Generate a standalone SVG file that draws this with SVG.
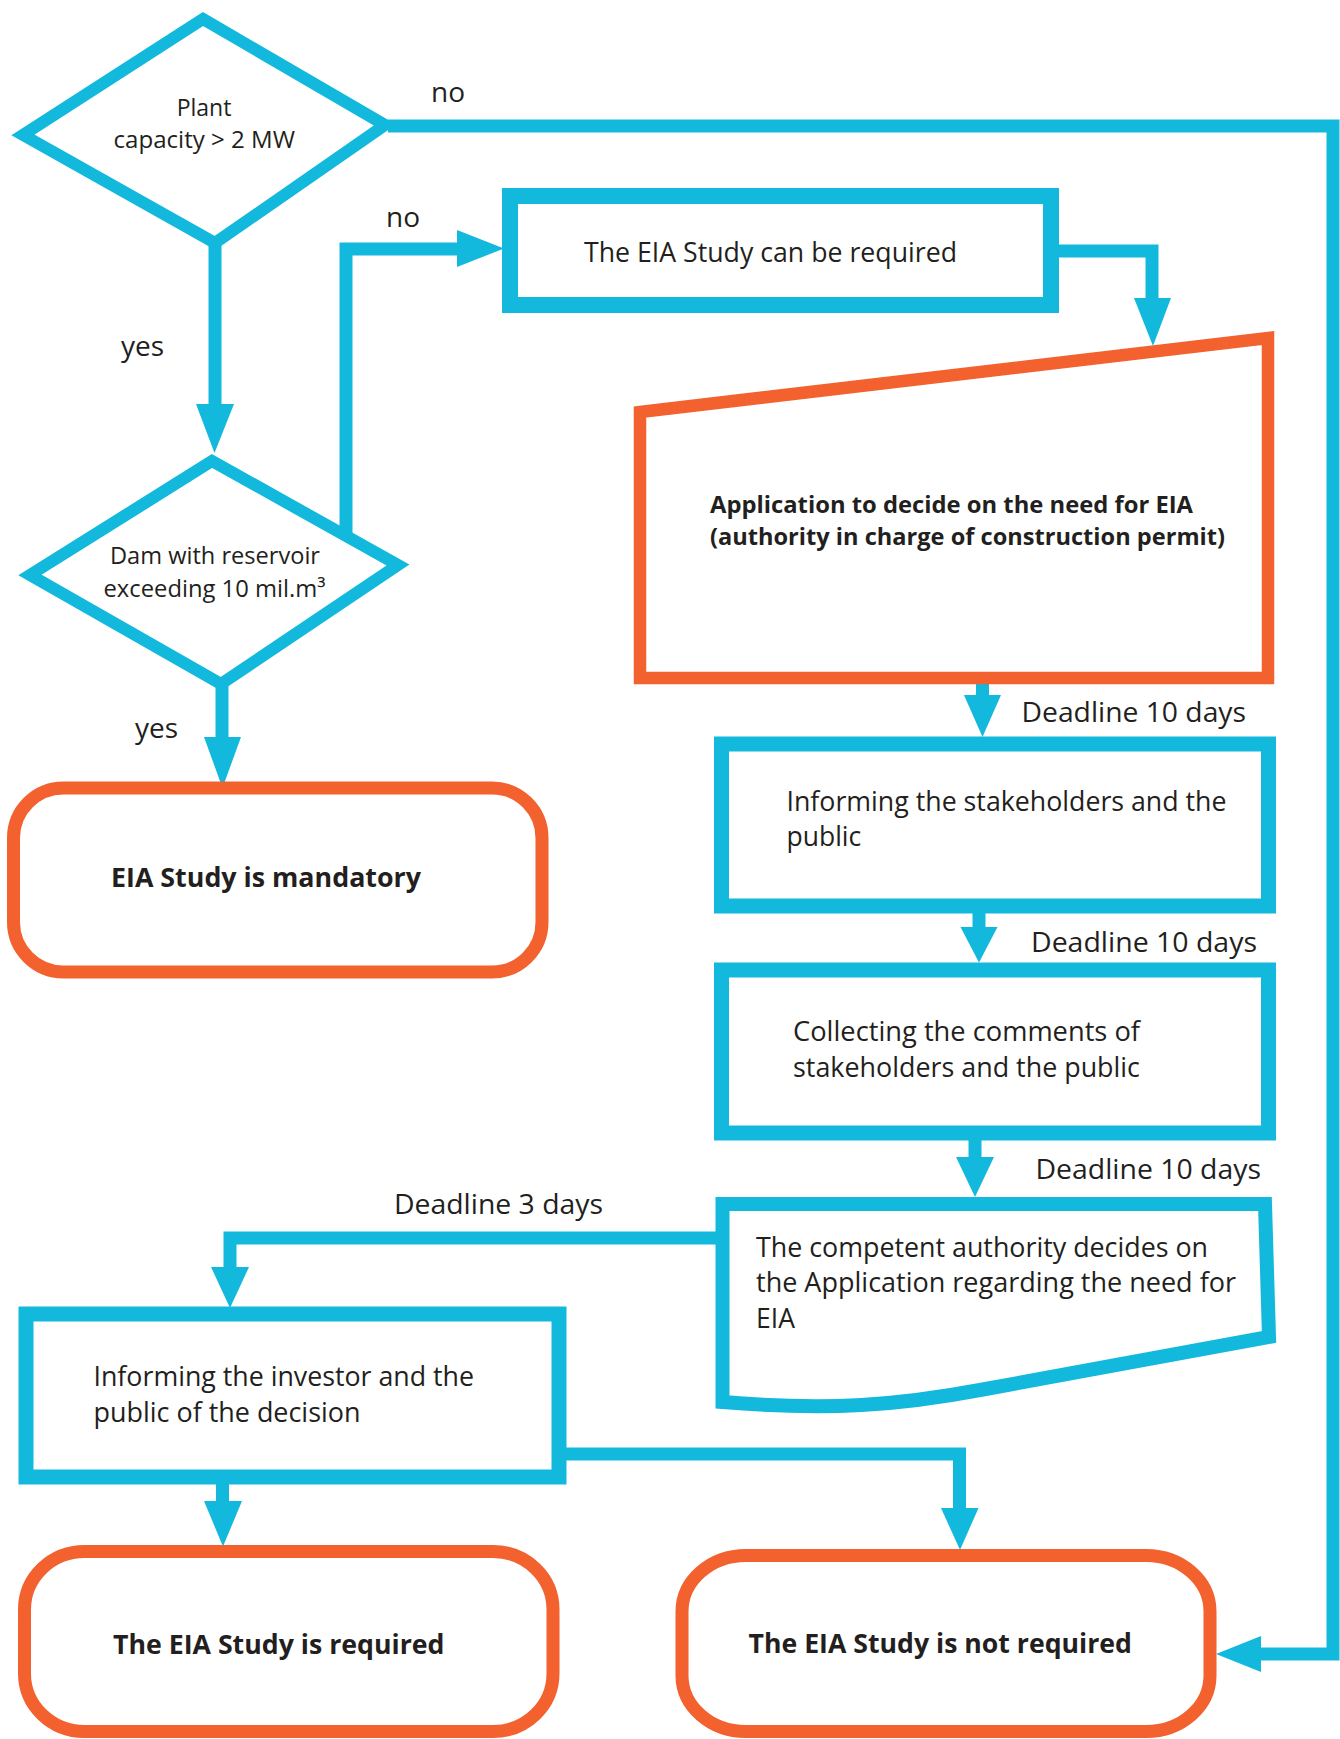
<svg xmlns="http://www.w3.org/2000/svg" width="1340" height="1739" viewBox="0 0 1340 1739">
<style>
.bg{fill:#ffffff}
.dia{fill:#ffffff;stroke:#12B9DC;stroke-width:12;stroke-linejoin:miter}
.box{fill:#ffffff;stroke:#12B9DC;stroke-width:15;stroke-linejoin:miter}
.obox{fill:#ffffff;stroke:#F2612E;stroke-width:12.5;stroke-linejoin:miter}
.term{fill:#ffffff;stroke:#F2612E;stroke-width:13}
.con{fill:none;stroke:#12B9DC;stroke-width:13;stroke-linejoin:miter;stroke-linecap:butt}
.ah{fill:#12B9DC;stroke:none}
text{font-family:"Open Sans","Noto Sans","Liberation Sans",sans-serif;fill:#231f20}
.sm{font-size:23px}
.t{font-size:26.5px}
.lbl{font-size:28px}
.b{font-size:26.5px;font-weight:bold}
.bs{font-size:23.5px;font-weight:bold}
</style>
<rect class="bg" x="0" y="0" width="1340" height="1739"/>

<g id="connectors">
  <!-- plant capacity: no -> not required -->
  <path class="con" d="M388 126 H1333 V1654 H1259"/>
  <polygon class="ah" points="1261,1636 1261,1672 1216,1654"/>
  <!-- plant capacity: yes -> dam -->
  <path class="con" d="M215 238 V406"/>
  <polygon class="ah" points="196,404 234,404 214.5,453"/>
  <!-- dam: no -> can be required -->
  <path class="con" d="M346 537 V249 H459"/>
  <polygon class="ah" points="457,230 457,267 504,248.5"/>
  <!-- can be required -> application -->
  <path class="con" d="M1058 251 H1152 V300"/>
  <polygon class="ah" points="1134,298 1171,298 1153,346"/>
  <!-- dam: yes -> mandatory -->
  <path class="con" d="M222 680 V739"/>
  <polygon class="ah" points="204,737 241,737 222.5,788"/>
  <!-- application -> informing stakeholders -->
  <path class="con" d="M982.5 682 V697"/>
  <polygon class="ah" points="964,695 1001,695 982.5,737"/>
  <!-- informing stakeholders -> collecting -->
  <path class="con" d="M979 910 V929"/>
  <polygon class="ah" points="960.5,927 997.5,927 979,962.5"/>
  <!-- collecting -> decision -->
  <path class="con" d="M975 1138 V1159"/>
  <polygon class="ah" points="956,1157 994,1157 975,1197"/>
  <!-- decision -> informing investor -->
  <path class="con" d="M718 1238 H230 V1269"/>
  <polygon class="ah" points="211,1267 249,1267 230,1308"/>
  <!-- informing investor -> required -->
  <path class="con" d="M222.5 1482 V1503"/>
  <polygon class="ah" points="204,1501 242,1501 223,1546.5"/>
  <!-- informing investor -> not required -->
  <path class="con" d="M564 1454 H959.5 V1510"/>
  <polygon class="ah" points="941,1508 978.5,1508 960,1550"/>
</g>

<g id="label-no-1"><text class="lbl" x="431" y="101.5">no</text></g>
<g id="label-yes-1"><text class="lbl" x="121" y="356">yes</text></g>
<g id="label-no-2"><text class="lbl" x="386" y="226.5">no</text></g>
<g id="label-yes-2"><text class="lbl" x="135" y="738">yes</text></g>
<g id="label-deadline-1"><text class="lbl" x="1021.5" y="721.5" textLength="224.5" lengthAdjust="spacingAndGlyphs">Deadline 10 days</text></g>
<g id="label-deadline-2"><text class="lbl" x="1031" y="952" textLength="226" lengthAdjust="spacingAndGlyphs">Deadline 10 days</text></g>
<g id="label-deadline-3"><text class="lbl" x="1035.5" y="1178.5" textLength="225.5" lengthAdjust="spacingAndGlyphs">Deadline 10 days</text></g>
<g id="label-deadline-4"><text class="lbl" x="394" y="1214" textLength="209" lengthAdjust="spacingAndGlyphs">Deadline 3 days</text></g>

<g id="node-plant-capacity">
  <polygon class="dia" points="203,19 385,125 215,243 23,135"/>
  <text class="sm" x="204" y="116" text-anchor="middle">Plant</text>
  <text class="sm" x="113.5" y="147.5" textLength="181.5" lengthAdjust="spacingAndGlyphs">capacity &gt; 2 MW</text>
</g>

<g id="node-dam">
  <polygon class="dia" points="212,461 398,565 221,684 30,575"/>
  <text class="sm" x="110" y="564" textLength="210" lengthAdjust="spacingAndGlyphs">Dam with reservoir</text>
  <text class="sm" x="103.5" y="596.5" textLength="222" lengthAdjust="spacingAndGlyphs">exceeding 10 mil.m³</text>
</g>

<g id="node-can-be-required">
  <rect x="510" y="196" width="541" height="109" fill="#ffffff" stroke="#12B9DC" stroke-width="16"/>
  <text class="t" x="584" y="262" textLength="373" lengthAdjust="spacingAndGlyphs">The EIA Study can be required</text>
</g>

<g id="node-application">
  <path class="obox" d="M640 412 L1268 338 L1268 678 L640 678 Z"/>
  <text class="bs" x="710" y="513" textLength="483" lengthAdjust="spacingAndGlyphs">Application to decide on the need for EIA</text>
  <text class="bs" x="710" y="545" textLength="515" lengthAdjust="spacingAndGlyphs">(authority in charge of construction permit)</text>
</g>

<g id="node-informing-stakeholders">
  <rect class="box" x="721.5" y="744" width="547" height="162"/>
  <text class="t" x="786.5" y="811" textLength="440" lengthAdjust="spacingAndGlyphs">Informing the stakeholders and the</text>
  <text class="t" x="786.5" y="846">public</text>
</g>

<g id="node-collecting">
  <rect class="box" x="721.5" y="970" width="547" height="163"/>
  <text class="t" x="793" y="1041" textLength="347" lengthAdjust="spacingAndGlyphs">Collecting the comments of</text>
  <text class="t" x="793" y="1077" textLength="347" lengthAdjust="spacingAndGlyphs">stakeholders and the public</text>
</g>

<g id="node-decision">
  <path fill="#ffffff" stroke="#12B9DC" stroke-width="14" stroke-linejoin="miter" d="M722.5 1204 H1265 L1269 1337 L980 1390 C900 1405 830 1411 722.5 1402 Z"/>
  <text class="t" x="756" y="1256.5" textLength="452" lengthAdjust="spacingAndGlyphs">The competent authority decides on</text>
  <text class="t" x="756" y="1291.5" textLength="480" lengthAdjust="spacingAndGlyphs">the Application regarding the need for</text>
  <text class="t" x="756" y="1328">EIA</text>
</g>

<g id="node-mandatory">
  <rect class="term" x="13.5" y="788" width="528.5" height="184" rx="50" ry="50" stroke-width="12.5"/>
  <text class="b" x="111" y="886.5" textLength="310" lengthAdjust="spacingAndGlyphs">EIA Study is mandatory</text>
</g>

<g id="node-informing-investor">
  <rect class="box" x="26" y="1314" width="533" height="163"/>
  <text class="t" x="93.5" y="1386" textLength="380.5" lengthAdjust="spacingAndGlyphs">Informing the investor and the</text>
  <text class="t" x="93.5" y="1422" textLength="267" lengthAdjust="spacingAndGlyphs">public of the decision</text>
</g>

<g id="node-required">
  <rect class="term" x="24.5" y="1551.5" width="528.5" height="180" rx="60" ry="58"/>
  <text class="b" x="113" y="1653.5" textLength="331.5" lengthAdjust="spacingAndGlyphs">The EIA Study is required</text>
</g>

<g id="node-not-required">
  <rect class="term" x="682" y="1555.5" width="528" height="176" rx="64" ry="56"/>
  <text class="b" x="748.5" y="1653" textLength="383.5" lengthAdjust="spacingAndGlyphs">The EIA Study is not required</text>
</g>
</svg>
